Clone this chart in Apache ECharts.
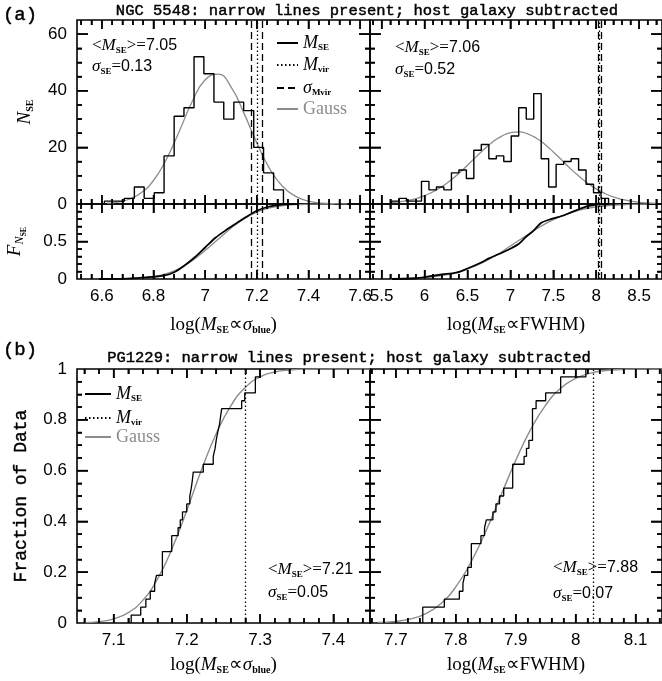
<!DOCTYPE html>
<html><head><meta charset="utf-8">
<script src="https://cdn.jsdelivr.net/npm/echarts@6/dist/echarts.min.js"></script>
<style>html,body{margin:0;padding:0;background:#fff}#c{width:662px;height:681px}</style>
</head><body><div id="c"></div><script>
// ---------------- DATA ----------------
// (a) NGC 5548 histograms
const ngcSigmaHistEdges = [6.610,6.649,6.687,6.726,6.764,6.803,6.841,6.880,6.918,6.957,6.995,7.034,7.072,7.111,7.149,7.188,7.226,7.265,7.303];
const ngcSigmaHistCounts = [1,1,2,6,2,4,17,31,34,52,46,36,30,36,33,20,11,5];
const ngcFwhmHistEdges = [5.615,5.702,5.789,5.877,5.964,6.051,6.138,6.225,6.313,6.400,6.487,6.574,6.661,6.749,6.836,6.923,7.010,7.097,7.185,7.272,7.359,7.446,7.533,7.621,7.708,7.795,7.882,7.969,8.057,8.144];
const ngcFwhmHistCounts = [1,2,1,1,8,5,6,5,11,12,9,19,21,16,17,15,24,34,30,39,16,6,14,15,16,12,7,4,2];
// Gauss curves
const ngcSigmaGaussX = [6.62,6.65,6.7,6.75,6.8,6.85,6.9,6.95,7.0,7.05,7.1,7.15,7.2,7.25,7.3,7.35,7.4,7.45,7.5,7.55];
const ngcSigmaGaussY = [0.3,0.5,1.5,3.8,8.3,15.8,25.7,36.2,43.9,45.9,41.4,32.1,21.6,12.4,6.2,2.7,1.0,0.3,0.1,0];
const ngcFwhmGaussX = [5.6,5.7,5.8,5.9,6.0,6.1,6.2,6.3,6.4,6.5,6.6,6.7,6.8,6.9,7.0,7.1,7.2,7.3,7.4,7.5,7.6,7.7,7.8,7.9,8.0,8.1,8.2,8.3,8.4,8.5,8.6,8.7];
const ngcFwhmGaussY = [0.44,0.76,1.23,1.94,2.95,4.32,6.09,8.28,10.85,13.7,16.65,19.5,22.1,24.0,25.2,25.5,24.8,23.3,21.1,18.4,15.5,12.5,9.8,7.36,5.33,3.72,2.5,1.63,1.02,0.61,0.36,0.2];
// cumulative panels
const ngcSigmaCdfX = [6.59,6.70,6.79,6.84,6.88,6.92,6.96,7.00,7.04,7.08,7.12,7.16,7.20,7.24,7.28,7.32,7.36];
const ngcSigmaCdfY = [0,0.005,0.027,0.045,0.09,0.18,0.29,0.42,0.55,0.65,0.74,0.83,0.91,0.96,0.985,0.997,1.0];
const ngcSigmaGaussCdfX = [6.6,6.7,6.8,6.85,6.9,6.95,7.0,7.05,7.1,7.15,7.2,7.25,7.3,7.35,7.4,7.45,7.5];
const ngcSigmaGaussCdfY = [0.0004,0.0044,0.032,0.072,0.14,0.245,0.38,0.53,0.677,0.80,0.891,0.947,0.977,0.991,0.997,0.999,1.0];
const ngcFwhmCdfX = [5.62,5.9,6.05,6.2,6.37,6.5,6.66,6.75,6.92,7.01,7.1,7.18,7.27,7.36,7.45,7.6,7.7,7.8,7.88,7.97,8.06,8.15];
const ngcFwhmCdfY = [0,0.01,0.035,0.06,0.085,0.14,0.22,0.275,0.36,0.41,0.47,0.56,0.645,0.75,0.79,0.84,0.885,0.93,0.965,0.985,0.995,1.0];
const ngcFwhmGaussCdfX = [5.6,5.8,6.0,6.2,6.4,6.6,6.8,7.0,7.2,7.4,7.6,7.8,8.0,8.2,8.4,8.6];
const ngcFwhmGaussCdfY = [0.002,0.007,0.019,0.045,0.095,0.178,0.295,0.439,0.591,0.731,0.841,0.917,0.962,0.984,0.994,0.998];
const ngcMvir = [7.20, 8.04];
const ngcMvirLo = [7.18, 8.02];
const ngcMvirHi = [7.22, 8.06];
// (b) PG1229 single-epoch samples
const pgSigmaSamples = [7.124,7.137,7.144,7.150,7.156,7.1585,7.1666,7.1666,7.1666,7.1793,7.1793,7.188,7.191,7.194,7.1998,7.204,7.206,7.2075,7.2087,7.2224,7.236,7.2385,7.240,7.242,7.2445,7.246,7.2475,7.2748,7.279,7.2935,7.2935,7.2998];
const pgFwhmSamples = [7.745,7.745,7.781,7.806,7.812,7.815,7.820,7.826,7.826,7.826,7.842,7.848,7.851,7.862,7.867,7.873,7.880,7.895,7.895,7.895,7.914,7.918,7.922,7.928,7.928,7.928,7.928,7.934,7.950,7.975,7.975,8.017];
const pgSigmaGaussX = [7.06,7.08,7.10,7.12,7.14,7.16,7.18,7.20,7.22,7.24,7.26,7.28,7.30,7.32,7.34,7.36,7.38,7.45];
const pgSigmaGaussY = [0.0016,0.0055,0.0162,0.0409,0.090,0.174,0.295,0.444,0.603,0.745,0.855,0.928,0.969,0.988,0.996,0.999,1.0,1.0];
const pgFwhmGaussX = [7.67,7.70,7.725,7.75,7.775,7.80,7.825,7.85,7.875,7.90,7.925,7.95,7.975,8.00,8.025,8.05,8.075,8.10,8.15];
const pgFwhmGaussY = [0.0017,0.0062,0.016,0.037,0.076,0.142,0.238,0.36,0.5,0.64,0.762,0.858,0.924,0.963,0.984,0.994,0.998,1.0,1.0];
const pgMvir = [7.28, 8.03];
// tick labels / tick marks
const ticksXSigmaA = [6.6,6.8,7,7.2,7.4,7.6];
const ticksXFwhmA = [5.5,6,6.5,7,7.5,8,8.5];
const ticksXSigmaB = [7.1,7.2,7.3,7.4];
const ticksXFwhmB = [7.7,7.8,7.9,8,8.1];
const ticksYHist = [0,20,40,60];
const labelsYCdf = [0,0.5];
const ticksYCdf = [0,0.5,1];
const ticksYFrac = [0,0.2,0.4,0.6,0.8,1];

// ---------------- HELPERS ----------------
const SERIF='Liberation Serif', SANS='Liberation Sans', MONO='Liberation Mono';
const GRAY='#8c8c8c';
const TW=1.5; // tick line width
const zip=(xs,ys)=>xs.map((x,i)=>[x,ys[i]]);
function histPoints(edges,counts){const p=[[edges[0],0]];counts.forEach((c,i)=>p.push([edges[i],c]));p.push([edges[edges.length-1],0]);return p;}
function ecdf(samples){const s=samples.slice().sort((a,b)=>a-b);const n=s.length;const p=[[s[0],0]];s.forEach((v,i)=>p.push([v,(i+1)/n]));return p;}
function tickVals(min,max,step,excl){const out=[];const k0=Math.ceil(min/step-1e-6),k1=Math.floor(max/step+1e-6);for(let k=k0;k<=k1;k++){const v=+(k*step).toFixed(6);if(!excl.some(e=>Math.abs(e-v)<1e-6))out.push(v);}return out;}
const fmt=v=>String(+(+v).toFixed(3));

const gridBase={show:true,borderColor:'#000',borderWidth:1.6,backgroundColor:'transparent'};
const grids=[
 {left:77,top:20,width:293,height:184},
 {left:370,top:20,width:293,height:184},
 {left:77,top:204,width:293,height:75},
 {left:370,top:204,width:293,height:75},
 {left:77,top:369,width:293,height:254},
 {left:370,top:369,width:293,height:254}
].map(g=>Object.assign({},gridBase,g));

const ranges=[
 {x:[6.504,7.638],y:[0,65],xMaj:ticksXSigmaA,xStep:0.04,yMaj:ticksYHist,yStep:5},
 {x:[5.364,8.767],y:[0,65],xMaj:ticksXFwhmA,xStep:0.1,yMaj:ticksYHist,yStep:5},
 {x:[6.504,7.638],y:[0,1],xMaj:ticksXSigmaA,xStep:0.04,yMaj:ticksYCdf,yStep:0.1},
 {x:[5.364,8.767],y:[0,1],xMaj:ticksXFwhmA,xStep:0.1,yMaj:ticksYCdf,yStep:0.1},
 {x:[7.05,7.45],y:[0,1],xMaj:ticksXSigmaB,xStep:0.02,yMaj:ticksYFrac,yStep:0.05},
 {x:[7.657,8.144],y:[0,1],xMaj:ticksXFwhmB,xStep:0.02,yMaj:ticksYFrac,yStep:0.05}
];
const nameRich={
  it:{fontFamily:SERIF,fontStyle:'italic',fontSize:19,color:'#000'},
  sb:{fontFamily:SERIF,fontWeight:'bold',fontSize:10,color:'#000',padding:[10,0,0,0]},
  sn:{fontFamily:SERIF,fontStyle:'italic',fontSize:12,color:'#000',padding:[10,0,0,0]},
  ssb:{fontFamily:SERIF,fontWeight:'bold',fontSize:8,color:'#000',padding:[18,0,0,0]}
};
const nameSigma='log({it|M}{sb|SE}\u221D{it|\u03C3}{sb|blue})';
const nameFwhm='log({it|M}{sb|SE}\u221DFWHM)';
const xLabels=[null,null,ticksXSigmaA,ticksXFwhmA,ticksXSigmaB,ticksXFwhmB];
const xNames=[null,null,[nameSigma,36],[nameFwhm,36],[nameSigma,32],[nameFwhm,32]];
const yLabels=[ticksYHist,null,labelsYCdf,null,ticksYFrac,null];
const yNames=[['{it|N}{sb|SE}',42,null],null,['{it|F}{sn|N}{ssb|SE}',49,null],null,['Fraction of Data',47,'mono'],null];

const xAxis=ranges.map((r,i)=>{
  const a={type:'value',gridIndex:i,position:'bottom',min:r.x[0],max:r.x[1],splitLine:{show:false},
    axisLine:{show:false,onZero:false},axisTick:{show:false},axisLabel:{show:false}};
  if(xLabels[i]) a.axisLabel={show:true,customValues:xLabels[i],formatter:fmt,margin:9,fontFamily:SANS,fontSize:17,color:'#000',hideOverlap:false};
  if(xNames[i]) Object.assign(a,{name:xNames[i][0],nameGap:xNames[i][1],nameLocation:'middle',
    nameTextStyle:{fontFamily:SERIF,fontSize:19,color:'#000',rich:nameRich}});
  return a;
});
const yAxis=ranges.map((r,i)=>{
  const a={type:'value',gridIndex:i,position:'left',min:r.y[0],max:r.y[1],splitLine:{show:false},
    axisLine:{show:false,onZero:false},axisTick:{show:false},axisLabel:{show:false}};
  if(yLabels[i]) a.axisLabel={show:true,customValues:yLabels[i],formatter:fmt,margin:10,fontFamily:SANS,fontSize:17,color:'#000',hideOverlap:false};
  if(yNames[i]) Object.assign(a,{name:yNames[i][0],nameGap:yNames[i][1],nameLocation:'middle',
    nameTextStyle:yNames[i][2]?{fontFamily:MONO,fontSize:18,color:'#000',textBorderColor:'#000',textBorderWidth:0.4}:{fontFamily:SERIF,fontSize:19,color:'#000',rich:nameRich}});
  return a;
});

const DOT=[1.5,2.5], DASH=[7,4];
function vline(name,i,vals,type){
  return {name:name,type:'line',xAxisIndex:i,yAxisIndex:i,data:[],symbol:'none',
    lineStyle:{color:'#000',width:1.3,type:type},itemStyle:{color:'#000'},
    markLine:{silent:true,symbol:'none',label:{show:false},animation:false,
      lineStyle:{color:'#000',width:1.3,type:type},
      data:vals.map(v=>({xAxis:v}))}};
}
function line(name,i,data,color,width,opts){
  return Object.assign({name:name,type:'line',xAxisIndex:i,yAxisIndex:i,data:data,symbol:'none',showSymbol:false,
    lineStyle:{color:color,width:width},itemStyle:{color:color},z:3},opts||{});
}

// tick marks: one markLine segment set per grid, placed through that grid's own axes
function tickSeries(i){
  const r=ranges[i],g=grids[i],segs=[];
  const dy=(r.y[1]-r.y[0])/g.height,dx=(r.x[1]-r.x[0])/g.width;
  const seg=(a,b)=>segs.push([{coord:a},{coord:b}]);
  const xt=(v,len)=>{seg([v,r.y[0]],[v,r.y[0]+len*dy]);seg([v,r.y[1]],[v,r.y[1]-len*dy]);};
  const yt=(v,len)=>{seg([r.x[0],v],[r.x[0]+len*dx,v]);seg([r.x[1],v],[r.x[1]-len*dx,v]);};
  r.xMaj.forEach(v=>{if(v>r.x[0]&&v<r.x[1])xt(v,9);});
  tickVals(r.x[0],r.x[1],r.xStep,r.xMaj).forEach(v=>{if(v>r.x[0]&&v<r.x[1])xt(v,5);});
  r.yMaj.forEach(v=>{if(v>r.y[0]&&v<r.y[1])yt(v,11);});
  tickVals(r.y[0],r.y[1],r.yStep,r.yMaj).forEach(v=>{if(v>r.y[0]&&v<r.y[1])yt(v,5);});
  return {name:'ticks'+i,type:'line',xAxisIndex:i,yAxisIndex:i,data:[],symbol:'none',z:9,
    lineStyle:{color:'#000',width:TW},itemStyle:{color:'#000'},
    markLine:{silent:true,symbol:['none','none'],label:{show:false},animation:false,precision:6,
      lineStyle:{color:'#000',width:TW,type:'solid',opacity:1},data:segs}};
}

const series=[
  line('Gauss',0,zip(ngcSigmaGaussX,ngcSigmaGaussY),GRAY,1.3,{smooth:true,z:2}),
  line('M_SE',0,histPoints(ngcSigmaHistEdges,ngcSigmaHistCounts),'#000',1.4,{step:'end'}),
  vline('M_vir',0,[ngcMvir[0]],DOT),
  vline('sig_Mvir',0,[ngcMvirLo[0],ngcMvirHi[0]],DASH),
  line('g1',1,zip(ngcFwhmGaussX,ngcFwhmGaussY),GRAY,1.3,{smooth:true,z:2}),
  line('h1',1,histPoints(ngcFwhmHistEdges,ngcFwhmHistCounts),'#000',1.4,{step:'end'}),
  vline('v1',1,[ngcMvir[1]],DOT),
  vline('d1',1,[ngcMvirLo[1],ngcMvirHi[1]],DASH),
  line('g2',2,zip(ngcSigmaGaussCdfX,ngcSigmaGaussCdfY),GRAY,1.3,{smooth:true,z:2}),
  line('c2',2,zip(ngcSigmaCdfX,ngcSigmaCdfY),'#000',1.8,{smooth:0.3}),
  vline('v2',2,[ngcMvir[0]],DOT),
  vline('d2',2,[ngcMvirLo[0],ngcMvirHi[0]],DASH),
  line('g3',3,zip(ngcFwhmGaussCdfX,ngcFwhmGaussCdfY),GRAY,1.3,{smooth:true,z:2}),
  line('c3',3,zip(ngcFwhmCdfX,ngcFwhmCdfY),'#000',1.8,{smooth:0.3}),
  vline('v3',3,[ngcMvir[1]],DOT),
  vline('d3',3,[ngcMvirLo[1],ngcMvirHi[1]],DASH),
  line('bGauss',4,zip(pgSigmaGaussX,pgSigmaGaussY),GRAY,1.4,{smooth:true,z:2}),
  line('bM_SE',4,ecdf(pgSigmaSamples),'#000',1.3,{step:'end'}),
  vline('bM_vir',4,[pgMvir[0]],DOT),
  line('g5',5,zip(pgFwhmGaussX,pgFwhmGaussY),GRAY,1.4,{smooth:true,z:2}),
  line('c5',5,ecdf(pgFwhmSamples),'#000',1.3,{step:'end'}),
  vline('v5',5,[pgMvir[1]],DOT)
].concat([0,1,2,3,4,5].map(i=>tickSeries(i)));

const legRich={
  it:{fontFamily:SERIF,fontStyle:'italic',fontSize:18,color:'#000'},
  sb:{fontFamily:SERIF,fontWeight:'bold',fontSize:9,color:'#000',padding:[10,0,0,0]},
  gs:{fontFamily:SERIF,fontSize:18,color:GRAY}
};
const legText={
  'M_SE':'{it|M}{sb|SE}','M_vir':'{it|M}{sb|vir}','sig_Mvir':'{it|\u03C3}{sb|Mvir}','Gauss':'{gs|Gauss}',
  'bM_SE':'{it|M}{sb|SE}','bM_vir':'{it|M}{sb|vir}','bGauss':'{gs|Gauss}'
};
function leg(name,left,top,w){
  return {data:[name],left:left,top:top,orient:'vertical',itemWidth:w,itemHeight:8,itemGap:0,padding:0,selectedMode:false,
    itemStyle:{opacity:0,borderWidth:0},
    formatter:n=>legText[n],textStyle:{rich:legRich}};
}
const legend=[
  leg('M_SE',276,34,21), leg('M_vir',276,56,21), leg('sig_Mvir',276,79,21), leg('Gauss',276,100,21),
  leg('bM_SE',84,385,26), leg('bM_vir',84,409,26), leg('bGauss',84,428,26)
];

// annotations
const annRich={
  rm:{fontFamily:SERIF,fontSize:17,fill:'#000'},
  it:{fontFamily:SERIF,fontStyle:'italic',fontSize:17,fill:'#000'},
  sb:{fontFamily:SERIF,fontWeight:'bold',fontSize:9,fill:'#000',padding:[9,0,0,0]},
  nu:{fontFamily:SANS,fontSize:16,fill:'#000'}
};
function ann(x,y,t){return {type:'text',x:x,y:y,z:100,style:{text:t,rich:annRich,align:'left',verticalAlign:'middle',fill:'#000',fontFamily:SANS,fontSize:16}};}
const meanText=v=>'{rm|<}{it|M}{sb|SE}{rm|>=}{nu|'+v+'}';
const sigText=v=>'{it|\u03C3}{sb|SE}{rm|=}{nu|'+v+'}';
function plain(x,y,t,size){return {type:'text',x:x,y:y,z:100,style:{text:t,align:'center',verticalAlign:'middle',fill:'#000',stroke:'#000',lineWidth:0.45,fontFamily:MONO,fontSize:size}};}
const texts=[
  plain(20,15,'(a)',19),
  plain(20,350,'(b)',19),
  plain(367,11,'NGC 5548: narrow lines present; host galaxy subtracted',15.5),
  plain(349,358,'PG1229: narrow lines present; host galaxy subtracted',15.5),
  ann(92,46,meanText('7.05')), ann(92,67,sigText('0.13')),
  ann(395,48,meanText('7.06')), ann(395,70,sigText('0.52')),
  ann(268,570,meanText('7.21')), ann(268,593,sigText('0.05')),
  ann(553,568,meanText('7.88')), ann(553,594,sigText('0.07'))
];

const chart=echarts.init(document.getElementById('c'),null,{renderer:'canvas'});
chart.setOption({animation:false,backgroundColor:'#fff',grid:grids,xAxis:xAxis,yAxis:yAxis,series:series,legend:legend});

// second set of tick marks as graphic lines positioned via the axes' scales (convertToPixel)
const tickEls=[];
ranges.forEach((r,i)=>{
  const P=v=>chart.convertToPixel({gridIndex:i},v);
  const push=(x1,y1,x2,y2)=>tickEls.push({type:'line',z:60,shape:{x1:x1,y1:y1,x2:x2,y2:y2},style:{stroke:'#000',lineWidth:TW}});
  const xt=(v,len)=>{const b=P([v,r.y[0]]),t=P([v,r.y[1]]);push(b[0],b[1],b[0],b[1]-len);push(t[0],t[1],t[0],t[1]+len);};
  const yt=(v,len)=>{const l=P([r.x[0],v]),q=P([r.x[1],v]);push(l[0],l[1],l[0]+len,l[1]);push(q[0],q[1],q[0]-len,q[1]);};
  r.xMaj.forEach(v=>{if(v>r.x[0]&&v<r.x[1])xt(v,9);});
  tickVals(r.x[0],r.x[1],r.xStep,r.xMaj).forEach(v=>{if(v>r.x[0]&&v<r.x[1])xt(v,5);});
  r.yMaj.forEach(v=>{if(v>r.y[0]&&v<r.y[1])yt(v,11);});
  tickVals(r.y[0],r.y[1],r.yStep,r.yMaj).forEach(v=>{if(v>r.y[0]&&v<r.y[1])yt(v,5);});
});
chart.setOption({graphic:texts.concat(tickEls)});
</script></body></html>
